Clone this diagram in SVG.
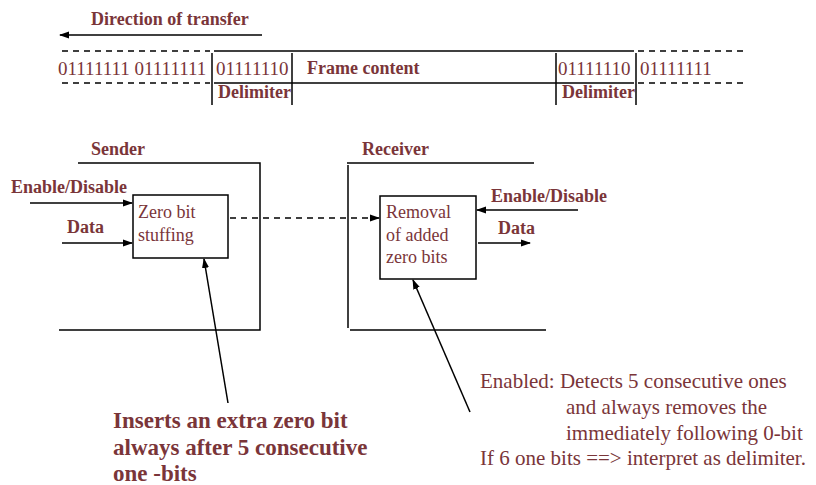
<svg xmlns="http://www.w3.org/2000/svg" width="816" height="485" viewBox="0 0 816 485">
<defs>
<style>
.t{font-family:"Liberation Serif","Times New Roman",serif;fill:#7a3539;font-size:18px}
.b{font-weight:bold}
.d{font-size:19px}
.big{font-size:23px;font-weight:bold}
.note{font-size:21px}
.ln{stroke:#000;stroke-width:1.5;fill:none}
.dash{stroke:#000;stroke-width:1.5;fill:none;stroke-dasharray:6,5}
.box{stroke:#000;stroke-width:1.5;fill:#fff}
</style>
<marker id="ah" markerWidth="10" markerHeight="8" refX="9" refY="4" orient="auto" markerUnits="userSpaceOnUse">
<path d="M0,0.5 L10,4 L0,7.5 Z" fill="#000"/>
</marker>
</defs>
<rect width="816" height="485" fill="#fff"/>

<g id="frame">
<text class="t b" x="91" y="25">Direction of transfer</text>
<line class="ln" x1="262" y1="35" x2="60" y2="35" marker-end="url(#ah)"/>
<line class="dash" x1="62" y1="51" x2="210" y2="51"/>
<line class="ln" x1="214" y1="51" x2="634" y2="51"/>
<line class="dash" x1="638" y1="51" x2="748" y2="51"/>
<line class="dash" x1="62" y1="83" x2="210" y2="83"/>
<line class="ln" x1="214" y1="83" x2="634" y2="83"/>
<line class="dash" x1="638" y1="83" x2="748" y2="83"/>
<line class="ln" x1="212" y1="53" x2="212" y2="105"/>
<line class="ln" x1="292" y1="53" x2="292" y2="105"/>
<line class="ln" x1="556" y1="53" x2="556" y2="105"/>
<line class="ln" x1="636" y1="53" x2="636" y2="105"/>
<text class="t d" x="58" y="75">01111111 01111111</text>
<text class="t d" x="216" y="75">01111110</text>
<text class="t b" x="307" y="74">Frame content</text>
<text class="t d" x="558" y="75">01111110</text>
<text class="t d" x="640" y="75">01111111</text>
<text class="t b" x="218" y="98">Delimiter</text>
<text class="t b" x="562" y="98">Delimiter</text>
</g>

<g id="sender">
<text class="t b" x="91" y="155">Sender</text>
<polyline class="ln" points="78,163 260,163 260,330 59,330"/>
</g>

<g id="receiver">
<text class="t b" x="362" y="155">Receiver</text>
<line class="ln" x1="347" y1="163" x2="534" y2="163"/>
<line class="ln" x1="348" y1="165" x2="348" y2="328"/>
<line class="ln" x1="350" y1="330" x2="546" y2="330"/>
</g>

<g id="stuffing">
<rect class="box" x="133" y="195" width="95" height="63"/>
<text class="t" x="138" y="218">Zero bit</text>
<text class="t" x="138" y="241">stuffing</text>
</g>

<g id="removal">
<rect class="box" x="380" y="196" width="96" height="83"/>
<text class="t" x="386" y="218">Removal</text>
<text class="t" x="386" y="241">of added</text>
<text class="t" x="386" y="263">zero bits</text>
</g>

<g id="labels">
<text class="t b" x="11" y="193">Enable/Disable</text>
<text class="t b" x="67" y="233">Data</text>
<text class="t b" x="491" y="202">Enable/Disable</text>
<text class="t b" x="498" y="234">Data</text>
</g>

<g id="sender-note">
<text class="t big" x="113" y="428">Inserts an extra zero bit</text>
<text class="t big" x="113" y="455">always after 5 consecutive</text>
<text class="t big" x="113" y="481">one -bits</text>
</g>

<g id="receiver-note">
<text class="t note" x="480" y="388">Enabled: Detects 5 consecutive ones</text>
<text class="t note" x="566" y="414">and always removes the</text>
<text class="t note" x="566" y="440">immediately following 0-bit</text>
<text class="t note" x="480" y="465">If 6 one bits ==&gt; interpret as delimiter.</text>
</g>

<g id="connectors">
<line class="ln" x1="30" y1="203" x2="132" y2="203" marker-end="url(#ah)"/>
<line class="ln" x1="62" y1="243" x2="132" y2="243" marker-end="url(#ah)"/>
<line class="dash" x1="230" y1="218" x2="379" y2="218" marker-end="url(#ah)"/>
<line class="ln" x1="578" y1="210" x2="477" y2="210" marker-end="url(#ah)"/>
<line class="ln" x1="478" y1="243" x2="530" y2="243" marker-end="url(#ah)"/>
<line class="ln" x1="228" y1="403" x2="204" y2="259" marker-end="url(#ah)"/>
<line class="ln" x1="470" y1="412" x2="413" y2="280" marker-end="url(#ah)"/>
</g>
</svg>
